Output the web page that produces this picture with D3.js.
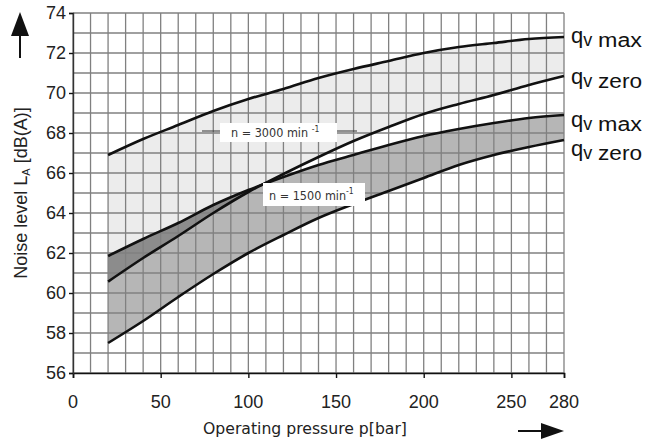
<!DOCTYPE html>
<html>
<head>
<meta charset="utf-8">
<script src="https://cdn.jsdelivr.net/npm/d3@7"></script>
<style>
  body { margin: 0; background: #fff; }
  svg { display: block; }
  .tick-label { font-family: Arial, "Liberation Sans", sans-serif; font-size: 18px; fill: #222; }
  .note { font-family: "Liberation Sans Narrow", "DejaVu Sans Condensed", Arial, sans-serif; font-size: 12.5px; fill: #333; }
  .qlabel { font-family: Arial, "Liberation Sans", sans-serif; fill: #111; }
</style>
</head>
<body>
<svg id="chart"></svg>
<script>
// pressure points (bar)
var pressure = [20, 40, 60, 80, 100, 120, 140, 160, 180, 200, 220, 240, 260, 280];

// n = 3000 min-1
var n3000Max = [66.9, 67.7, 68.4, 69.1, 69.7, 70.2, 70.75, 71.2, 71.6, 72.0, 72.3, 72.5, 72.7, 72.8];
var n3000Zero = [60.57, 61.75, 62.85, 64.0, 65.05, 65.95, 66.8, 67.6, 68.3, 68.95, 69.45, 69.9, 70.4, 70.85];

// n = 1500 min-1
var n1500Max = [61.85, 62.7, 63.5, 64.4, 65.15, 65.8, 66.4, 66.9, 67.4, 67.85, 68.2, 68.5, 68.75, 68.9];
var n1500Zero = [57.5, 58.6, 59.8, 60.95, 62.0, 62.9, 63.75, 64.45, 65.1, 65.75, 66.4, 66.9, 67.3, 67.65];

// axis ticks
var xTicks = [0, 50, 100, 150, 200, 250, 280];
var yTicks = [56, 58, 60, 62, 64, 66, 68, 70, 72, 74];
var xGrid = d3.range(0, 281, 10);
var yGrid = d3.range(56, 75, 1);

var svgWidth = 649;
var svgHeight = 445;
var svg = d3.select("#chart").attr("width", svgWidth).attr("height", svgHeight);

var xScale = d3.scaleLinear().domain([0, 280]).range([73, 564]);
var yScale = d3.scaleLinear().domain([56, 74]).range([373, 13]);

function band(upper, lower) {
  return d3.area()
    .x(function (d, i) { return xScale(pressure[i]); })
    .y0(function (d, i) { return yScale(lower[i]); })
    .y1(function (d, i) { return yScale(upper[i]); })
    .curve(d3.curveMonotoneX)(pressure);
}

function curve(values) {
  return d3.line()
    .x(function (d, i) { return xScale(pressure[i]); })
    .y(function (d) { return yScale(d); })
    .curve(d3.curveMonotoneX)(values);
}

// shaded bands
svg.append("clipPath").attr("id", "band3000")
  .append("path").attr("d", band(n3000Max, n3000Zero));

svg.append("path").attr("d", band(n3000Max, n3000Zero)).attr("fill", "#ececec");
svg.append("path").attr("d", band(n1500Max, n1500Zero)).attr("fill", "#b6b6b6");
// overlap of both bands
svg.append("path").attr("d", band(n1500Max, n1500Zero))
  .attr("fill", "#8c8c8c")
  .attr("clip-path", "url(#band3000)");

// grid
var grid = svg.append("g").attr("stroke", "#808080").attr("stroke-width", 1.3);
grid.selectAll("line.v")
  .data(xGrid)
  .enter()
  .append("line")
  .attr("class", "v")
  .attr("x1", function (d) { return xScale(d); })
  .attr("x2", function (d) { return xScale(d); })
  .attr("y1", yScale(74))
  .attr("y2", yScale(56));
grid.selectAll("line.h")
  .data(yGrid)
  .enter()
  .append("line")
  .attr("class", "h")
  .attr("x1", xScale(0))
  .attr("x2", xScale(280))
  .attr("y1", function (d) { return yScale(d); })
  .attr("y2", function (d) { return yScale(d); });

// axes
var xAxis = svg.append("g").attr("transform", "translate(0," + yScale(56) + ")")
  .call(d3.axisBottom(xScale).tickValues(xTicks).tickSize(5).tickFormat(""));
xAxis.select(".domain").attr("stroke", "#111").attr("stroke-width", 1.6);
xAxis.selectAll(".tick line").attr("stroke", "#111").attr("stroke-width", 1.4);

var yAxis = svg.append("g").attr("transform", "translate(" + xScale(0) + ",0)")
  .call(d3.axisLeft(yScale).tickValues(yTicks).tickSize(4).tickFormat(""));
yAxis.select(".domain").attr("stroke", "#333").attr("stroke-width", 1.4);
yAxis.selectAll(".tick line").attr("stroke", "#111").attr("stroke-width", 1.4);

svg.selectAll("text.xt")
  .data(xTicks)
  .enter()
  .append("text")
  .attr("class", "tick-label")
  .attr("x", function (d) { return xScale(d); })
  .attr("y", 408)
  .attr("text-anchor", "middle")
  .text(function (d) { return d; });

svg.selectAll("text.yt")
  .data(yTicks)
  .enter()
  .append("text")
  .attr("class", "tick-label")
  .attr("x", 66)
  .attr("y", function (d) { return yScale(d); })
  .attr("dy", "0.36em")
  .attr("text-anchor", "end")
  .text(function (d) { return d; });

// curves
[n3000Max, n3000Zero, n1500Max, n1500Zero].forEach(function (values) {
  svg.append("path")
    .attr("d", curve(values))
    .attr("fill", "none")
    .attr("stroke", "#111")
    .attr("stroke-width", 2.6);
});

// speed notes with white boxes and leader lines
svg.append("line").attr("x1", 202).attr("x2", 357).attr("y1", 131).attr("y2", 131)
  .attr("stroke", "#333").attr("stroke-width", 1);
svg.append("rect").attr("x", 220).attr("y", 123).attr("width", 117).attr("height", 19).attr("fill", "#fff");
var t3000 = svg.append("text").attr("class", "note").attr("x", 231).attr("y", 137);
t3000.append("tspan").text("n = 3000 min ");
t3000.append("tspan").attr("dy", -5).attr("font-size", "8.5px").text("-1");

svg.append("rect").attr("x", 263).attr("y", 183).attr("width", 102).attr("height", 23).attr("fill", "#fff");
var t1500 = svg.append("text").attr("class", "note").attr("x", 269).attr("y", 200);
t1500.append("tspan").text("n = 1500 min");
t1500.append("tspan").attr("dy", -6).attr("font-size", "8.5px").text("-1");

// right hand labels: q, subscript v, then max / zero
var qLabels = [
  { y: 47, sub: "max" },
  { y: 88, sub: "zero" },
  { y: 131, sub: "max" },
  { y: 160, sub: "zero" }
];
qLabels.forEach(function (q) {
  var t = svg.append("text").attr("class", "qlabel").attr("x", 571).attr("y", q.y - 4);
  t.append("tspan").attr("font-size", "22px").text("q");
  t.append("tspan").attr("font-size", "18px").attr("dy", 3).text("v");
  t.append("tspan").attr("x", 598).attr("dy", 1).attr("font-size", "20px")
    .attr("textLength", 44).attr("lengthAdjust", "spacingAndGlyphs").text(q.sub);
});

// y axis title and arrow
var yTitle = svg.append("text")
  .attr("transform", "translate(27,193) rotate(-90)")
  .attr("text-anchor", "middle")
  .attr("font-family", "Arial, 'Liberation Sans', sans-serif")
  .attr("font-size", "18px")
  .attr("fill", "#222");
yTitle.append("tspan").text("Noise level  L");
yTitle.append("tspan").attr("font-size", "11px").attr("dy", 3).text("A");
yTitle.append("tspan").attr("dy", -3).text(" [dB(A)]");

svg.append("line").attr("x1", 20).attr("x2", 20).attr("y1", 30).attr("y2", 58)
  .attr("stroke", "#111").attr("stroke-width", 2);
svg.append("path").attr("d", "M20,12 L11,36 L29,36 Z").attr("fill", "#111");

// x axis title and arrow
svg.append("text")
  .attr("x", 203)
  .attr("y", 434)
  .attr("textLength", 204)
  .attr("lengthAdjust", "spacingAndGlyphs")
  .attr("font-family", "'DejaVu Sans Condensed', 'Liberation Sans Narrow', sans-serif")
  .attr("font-size", "15px")
  .attr("fill", "#222")
  .text("Operating pressure p[bar]");

svg.append("line").attr("x1", 518).attr("x2", 548).attr("y1", 431).attr("y2", 431)
  .attr("stroke", "#111").attr("stroke-width", 2);
svg.append("path").attr("d", "M564,431 L541,423 L541,439 Z").attr("fill", "#111");
</script>
</body>
</html>
